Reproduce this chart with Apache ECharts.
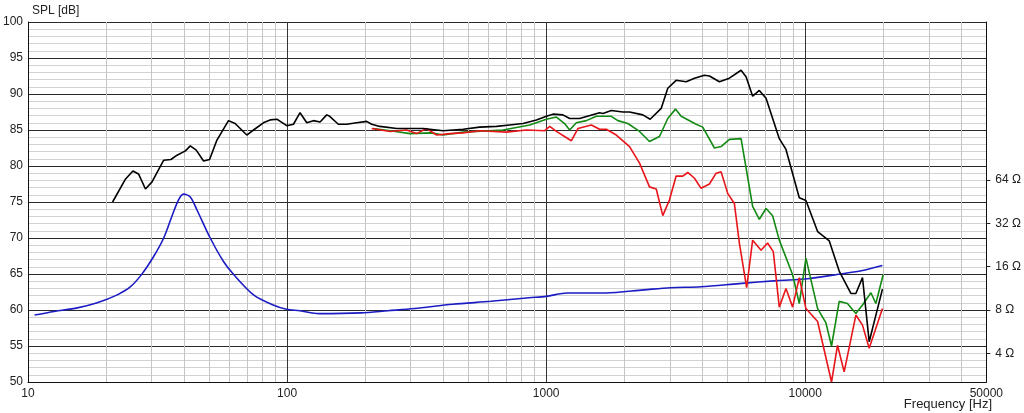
<!DOCTYPE html>
<html><head><meta charset="utf-8">
<script src="https://cdn.jsdelivr.net/npm/echarts@6/dist/echarts.min.js"></script>
<style>html,body{margin:0;padding:0;background:#fff}#c{width:1024px;height:413px}</style>
</head><body><div id="c"></div>
<script>
// ---- tick labels ----
const freqTickLabels = [10, 100, 1000, 10000, 50000];
const freqMajorGrid = [10, 100, 1000, 10000];
const freqMinorMultipliers = [2, 3, 4, 5, 6, 7, 8, 9];
const freqMinorDecades = [10, 100, 1000, 10000];
const freqMax = 50000;
const splMin = 50, splMax = 100, splStep = 5;
const impedanceTickLabels = [4, 8, 16, 32, 64];
const impedanceRefOhm = 8, impedanceRefDb = 60;

// ---- on-axis SPL (black) ----
const blackFreq = [21.2,23.8,25.4,26.7,28.4,30.1,33.4,35.6,37.6,40.5,42.3,44.6,47.6,50.2,53.6,59.4,63.0,69.9,74.2,81.0,86.0,91.3,99.7,105.8,112.2,119.1,126.3,134.1,142.2,146,157.7,169.8,185.6,202.8,212,228,265,335,400,478,554,643,723,814,917,1002,1062,1160,1232,1346,1607,1656,1784,1977,2098,2360,2520,2779,2947,3174,3470,3736,4082,4267,4663,5095,5652,5909,6265,6647,7057,7940,8425,9483,10060,11160,12380,13520,15000,15680,16630,17650,19860];
const blackSpl = [75.0,78.2,79.3,78.9,76.8,77.8,80.8,80.9,81.5,82.1,82.8,82.2,80.7,80.9,83.6,86.3,85.9,84.3,85.0,86.0,86.4,86.5,85.6,85.8,87.4,86.0,86.3,86.1,87.1,86.9,85.8,85.8,86.0,86.2,85.8,85.5,85.2,85.2,84.9,85.1,85.4,85.5,85.7,85.9,86.4,86.9,87.2,87.1,86.6,86.6,87.4,87.3,87.7,87.5,87.5,87.1,86.5,88.0,90.8,91.9,91.7,92.2,92.6,92.5,91.7,92.2,93.3,92.4,89.7,90.5,89.4,83.8,82.3,75.6,75.2,70.9,69.6,65.4,62.3,62.3,64.5,55.6,62.9];

// ---- 30 deg (green) ----
const greenFreq = [215,250,298,360,400,478,681,864,1002,1095,1178,1232,1307,1429,1561,1784,1891,2066,2293,2505,2737,2947,3155,3319,3792,4020,4461,4733,5095,5652,6265,6647,7057,7482,7940,8937,9483,10060,11160,12020,12630,13520,14550,15680,16630,17920,18730,19980];
const greenSpl = [85.2,84.9,84.5,84.6,84.3,84.7,85.0,85.7,86.5,86.8,85.9,85.0,86.0,86.3,86.9,86.9,86.3,85.9,84.8,83.4,84.1,86.6,87.9,86.9,85.8,85.4,82.5,82.7,83.7,83.8,74.4,72.6,74.1,73.1,69.7,64.9,60.9,67.2,60.2,58.2,55.0,61.2,60.9,59.5,60.7,62.4,60.9,64.9];

// ---- 60 deg (red) ----
const redFreq = [212,250,289,316,345,378,425,478,554,703,839,987,1032,1095,1250,1326,1494,1607,1706,1865,2098,2293,2505,2660,2819,2992,3174,3367,3520,3736,3963,4267,4529,4733,5019,5325,5568,5940,6265,6751,7155,7527,7940,8425,8937,9483,10060,11160,12630,13320,14130,15680,16630,17650,19860];
const redSpl = [85.2,84.8,85.0,84.5,85.2,84.3,84.5,84.6,84.9,84.7,85.0,84.9,85.5,84.8,83.5,85.2,85.7,85.1,85.1,84.3,82.7,80.4,77.1,76.8,73.1,75.3,78.6,78.6,79.1,78.3,76.9,77.5,79.0,79.2,76.2,74.8,69.3,63.1,69.7,68.3,69.3,68.1,60.4,63.0,60.4,64.5,60.2,58.4,50.0,55.1,51.4,59.3,57.9,54.7,60.2];

// ---- impedance (blue), ohms ----
const impFreq = [10.6,12.6,15.5,18.5,22.1,24.8,27.5,30.5,33.4,35.9,38.1,39.8,42.3,44.9,50.5,56.9,62.2,74.2,88.4,99.5,112,133,193,245,310,436,612,859,1000,1207,1694,2380,3020,3956,5555,7800,10240,13890,16460,19840];
const impOhm = [7.38,7.82,8.28,8.98,10.19,11.56,14.2,18.75,25.3,35.7,46.6,51.0,48.8,39.6,25.3,17.3,14.1,10.2,8.67,8.09,7.91,7.55,7.64,7.91,8.19,8.77,9.19,9.73,9.95,10.5,10.5,11.04,11.43,11.6,12.2,12.8,13.2,14.3,15.0,16.3];

// ---- helpers (axis mapping) ----
const lg = v => Math.log10(v);
const ohmToDb = z => impedanceRefDb + 20 * Math.log10(z / impedanceRefOhm);
const dbToOhm = d => impedanceRefOhm * Math.pow(10, (d - impedanceRefDb) / 20);
const pairs = (fs, vs, f) => fs.map((x, i) => [lg(x), f ? f(vs[i]) : vs[i]]);
const minorLogs = [];
freqMinorDecades.forEach(d => freqMinorMultipliers.forEach(m => { if (d * m < freqMax) minorLogs.push(lg(d * m)); }));

const FONT = 'Liberation Sans, Arial, sans-serif';
const txt = { color: '#222', fontFamily: FONT, fontSize: 12 };

const chart = echarts.init(document.getElementById('c'), null, { renderer: 'canvas' });
chart.setOption({
  animation: false,
  backgroundColor: '#fff',
  title: [
    { text: 'SPL [dB]', left: 27, top: 0, textStyle: Object.assign({ fontWeight: 'normal' }, txt) },
    { text: 'Frequency [Hz]', right: 27, top: 393, textStyle: Object.assign({ fontWeight: 'normal' }, txt, { fontSize: 13 }) }
  ],
  grid: { left: 28, right: 37, top: 22, bottom: 31, containLabel: false },
  xAxis: [
    {
      type: 'value', min: lg(10), max: lg(freqMax),
      axisLine: { show: true, lineStyle: { color: '#111', width: 1 } },
      axisTick: { show: false, customValues: freqMajorGrid.map(lg) },
      axisLabel: { customValues: freqTickLabels.map(lg), formatter: v => String(Math.round(Math.pow(10, v))), margin: 6, ...txt },
      splitLine: { show: true, lineStyle: { color: '#333', width: 1 } }
    },
    {
      type: 'value', min: lg(10), max: lg(freqMax), position: 'bottom',
      axisLine: { show: false }, axisLabel: { show: false },
      axisTick: { show: false, customValues: minorLogs },
      splitLine: { show: true, lineStyle: { color: '#c4c4c4', width: 1 } }
    }
  ],
  yAxis: [
    {
      type: 'value', min: splMin, max: splMax, interval: splStep,
      axisLine: { show: true, lineStyle: { color: '#111', width: 1 } },
      axisTick: { show: false },
      axisLabel: { margin: 5, ...txt },
      splitLine: { show: true, lineStyle: { color: '#2a2a2a', width: 1 } },
      minorTick: { show: false, splitNumber: 5 },
      minorSplitLine: { show: true, lineStyle: { color: '#d2d2d2', width: 1 } }
    },
    {
      type: 'value', min: splMin, max: splMax, position: 'right',
      axisLine: { show: true, lineStyle: { color: '#111', width: 1 } },
      axisTick: { show: true, length: 4, customValues: impedanceTickLabels.map(ohmToDb), lineStyle: { color: '#222' } },
      axisLabel: { customValues: impedanceTickLabels.map(ohmToDb), formatter: v => Math.round(dbToOhm(v)) + ' \u03A9', margin: 9, ...txt },
      splitLine: { show: false }
    }
  ],
  series: [
    { name: 'Impedance', type: 'line', xAxisIndex: 0, yAxisIndex: 0, data: pairs(impFreq, impOhm, ohmToDb), showSymbol: false, smooth: 0.3, lineStyle: { color: '#1c1cc4', width: 1.6 }, z: 3 },
    { name: '30deg', type: 'line', xAxisIndex: 0, yAxisIndex: 0, data: pairs(greenFreq, greenSpl), showSymbol: false, lineStyle: { color: '#138a13', width: 1.6 }, z: 4 },
    { name: '60deg', type: 'line', xAxisIndex: 0, yAxisIndex: 0, data: pairs(redFreq, redSpl), showSymbol: false, lineStyle: { color: '#e8151a', width: 1.6 }, z: 5 },
    { name: '0deg', type: 'line', xAxisIndex: 0, yAxisIndex: 0, data: pairs(blackFreq, blackSpl), showSymbol: false, lineStyle: { color: '#000', width: 1.6 }, z: 6 }
  ]
});
</script></body></html>
